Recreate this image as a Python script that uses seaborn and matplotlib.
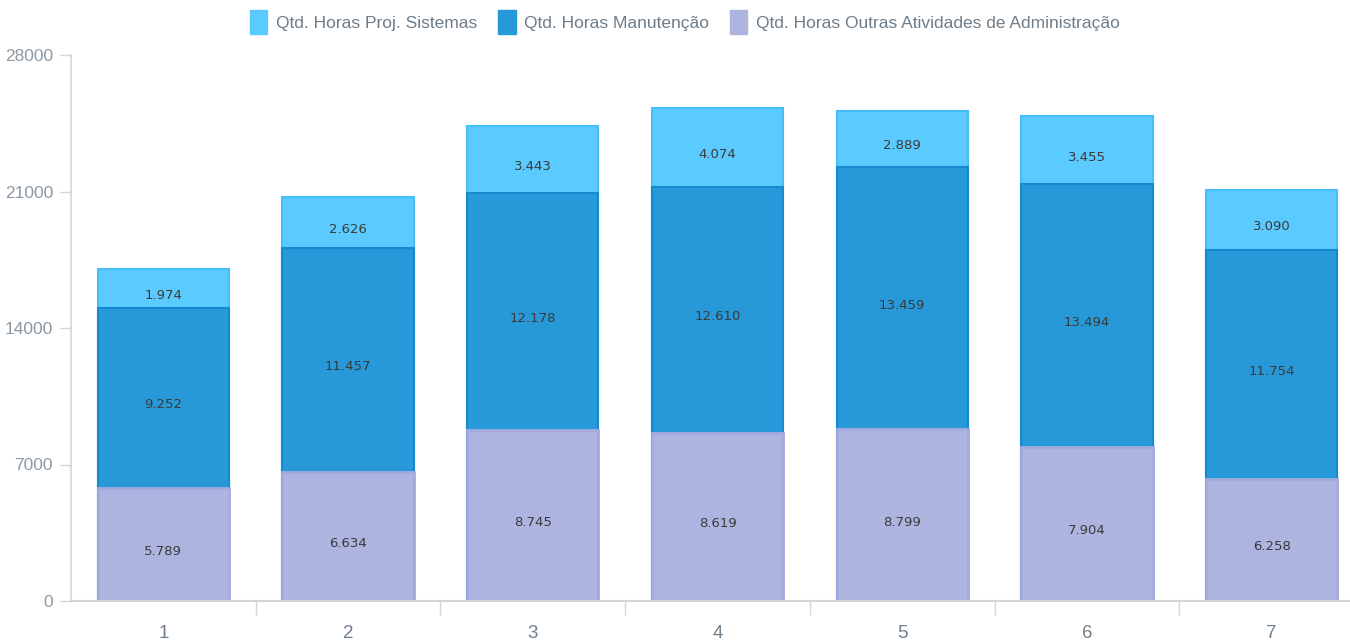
import matplotlib
matplotlib.use("Agg")
import matplotlib.pyplot as plt
import seaborn as sns
import pandas as pd
import numpy as np
from matplotlib.patches import Patch
import matplotlib.transforms as mtransforms

categories = ["1", "2", "3", "4", "5", "6", "7"]
admin = [5789, 6634, 8745, 8619, 8799, 7904, 6258]
manut = [9252, 11457, 12178, 12610, 13459, 13494, 11754]
proj = [1974, 2626, 3443, 4074, 2889, 3455, 3090]
series_names = ["Qtd. Horas Proj. Sistemas", "Qtd. Horas Manutenção",
                "Qtd. Horas Outras Atividades de Administração"]
yticks = [0, 7000, 14000, 21000, 28000]

sns.set_theme(style="white")
plt.rcParams['font.family'] = ['Liberation Sans', 'DejaVu Sans']

c_proj, c_manut, c_admin = "#5BCBFF", "#2899D8", "#AEB4E0"
e_proj, e_manut, e_admin = "#45BFF8", "#168AD0", "#A4AADD"

df = pd.DataFrame({"cat": categories, "admin": admin, "manut": manut, "proj": proj})
df["lvl2"] = df["admin"] + df["manut"]
df["lvl3"] = df["lvl2"] + df["proj"]

fig = plt.figure(figsize=(13.5, 6.43), dpi=100)
ax = fig.add_axes([71/1350, 42/643, (1364-71)/1350, (601-55)/643])

bw = 0.71
sns.barplot(data=df, x="cat", y="lvl3", color=c_proj, width=bw, ax=ax,
            saturation=1, edgecolor=e_proj, linewidth=1.5)
sns.barplot(data=df, x="cat", y="lvl2", color=c_manut, width=bw, ax=ax,
            saturation=1, edgecolor=e_manut, linewidth=1.5)
sns.barplot(data=df, x="cat", y="admin", color=c_admin, width=bw, ax=ax,
            saturation=1, edgecolor=e_admin, linewidth=2.0)

def fmt(v):
    return f"{v:,}".replace(",", ".")

offset = mtransforms.offset_copy(ax.transData, fig=fig, x=0, y=-7, units="dots")
for i in range(len(categories)):
    a, m, p = admin[i], manut[i], proj[i]
    for bottom, val in [(0, a), (a, m), (a + m, p)]:
        ax.text(i, bottom + val / 2, fmt(val), ha="center", va="center",
                fontsize=9.5, color="#3a3a3a", family="DejaVu Sans",
                transform=offset)

ax.set_ylim(0, 28000)
ax.set_xlim(-0.5, len(categories) - 0.5)
ax.set_yticks(yticks)
ax.set_yticklabels([str(t) for t in yticks])
ax.set_xlabel("")
ax.set_ylabel("")

for s in ["top", "right"]:
    ax.spines[s].set_visible(False)
ax.spines["left"].set_color("#d5d5d5")
ax.spines["bottom"].set_color("#d5d5d5")
ax.spines["left"].set_linewidth(1.2)
ax.spines["bottom"].set_linewidth(1.5)

ax.tick_params(axis="y", which="major", length=8, width=1, color="#d5d5d5",
               labelcolor="#8a99a6", labelsize=12.5, pad=5, left=True)
ax.tick_params(axis="x", which="major", length=0, labelcolor="#707f8c",
               labelsize=13.5, pad=17, bottom=True)
ax.set_xticks(np.arange(0.5, len(categories) - 0.5), minor=True)
ax.tick_params(axis="x", which="minor", length=10, width=1, color="#d5d5d5",
               bottom=True, direction="out")

handles = [Patch(facecolor=c, edgecolor=c) for c in (c_proj, c_manut, c_admin)]
fig.legend(handles, series_names, loc="center", bbox_to_anchor=(685/1350, 1 - 22/643),
           ncol=3, frameon=False, fontsize=12.5, handlelength=1.0, handleheight=1.8,
           handletextpad=0.5, columnspacing=1.2, labelcolor="#6f7d88")

fig.savefig("out.png", dpi=100)
